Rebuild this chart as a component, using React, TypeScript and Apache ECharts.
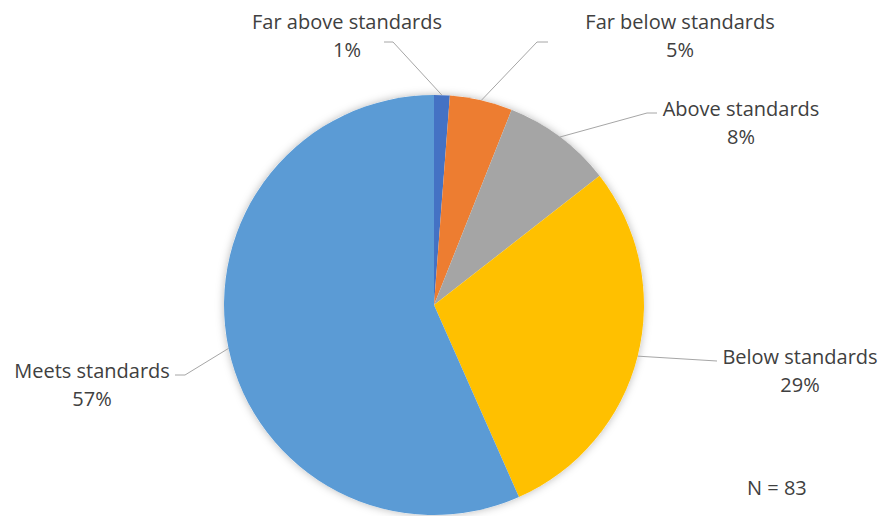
import React, { useEffect, useRef } from "react";
import * as echarts from "echarts";

// Survey results: count of respondents per rating, clockwise from 12 o'clock
const categories = [
  "Far above standards",
  "Far below standards",
  "Above standards",
  "Below standards",
  "Meets standards",
];
const counts = [1, 4, 7, 24, 47];
const sliceColors = ["#4472C4", "#ED7D31", "#A5A5A5", "#FFC000", "#5B9BD5"];
const totalLabel = "N = 83";

// Label anchor (text centre) and leader-line elbow/end for each slice
const labelPlacement = [
  { x: 347, y: 35, elbow: [393, 42], end: [384, 42] },
  { x: 680, y: 35, elbow: [537, 42], end: [548, 42] },
  { x: 741, y: 122, elbow: [647, 113], end: [657, 113] },
  { x: 800, y: 370, elbow: [717, 361], end: [717, 361] },
  { x: 92, y: 384, elbow: [185, 375], end: [175, 375] },
];

const FONT = "'Open Sans', Lato, sans-serif";

export default function App() {
  const ref = useRef<HTMLDivElement>(null);

  useEffect(() => {
    if (!ref.current) return;
    const chart = echarts.init(ref.current, null, { renderer: "svg" });
    const total = counts.reduce((a, b) => a + b, 0);
    chart.setOption({
      animation: false,
      backgroundColor: "#ffffff",
      graphic: [
        {
          type: "text",
          left: 747,
          top: 477,
          style: {
            text: totalLabel,
            fill: "#404040",
            font: `20px ${FONT}`,
          },
        },
      ],
      series: [
        {
          // soft drop shadow behind the whole pie
          type: "pie",
          silent: true,
          center: [434, 305],
          radius: 210,
          z: 1,
          label: { show: false },
          labelLine: { show: false },
          itemStyle: {
            color: "#ffffff",
            shadowBlur: 8,
            shadowColor: "rgba(0,0,0,0.28)",
          },
          data: [{ value: total, name: "all" }],
        },
        {
          type: "pie",
          z: 2,
          center: [434, 305],
          radius: 210,
          startAngle: 90,
          clockwise: true,
          itemStyle: { borderWidth: 0 },
          label: {
            show: true,
            formatter: (p: any) =>
              `${p.name}\n${Math.round((p.value / total) * 100)}%`,
            color: "#404040",
            fontFamily: FONT,
            fontSize: 20,
            lineHeight: 28,
            align: "center",
          },
          labelLine: {
            show: true,
            lineStyle: { color: "#A6A6A6", width: 1 },
          },
          labelLayout: (params: any) => {
            const pl = labelPlacement[params.dataIndex];
            const start = params.labelLinePoints
              ? params.labelLinePoints[0]
              : pl.elbow;
            return {
              x: pl.x,
              y: pl.y,
              align: "center",
              verticalAlign: "middle",
              labelLinePoints: [start, pl.elbow, pl.end],
            };
          },
          data: categories.map((name, i) => ({
            name,
            value: counts[i],
            itemStyle: { color: sliceColors[i] },
          })),
        },
      ],
    });
    return () => chart.dispose();
  }, []);

  return (
    <div
      ref={ref}
      style={{ position: "fixed", left: 0, top: 0, width: 882, height: 516 }}
    />
  );
}
